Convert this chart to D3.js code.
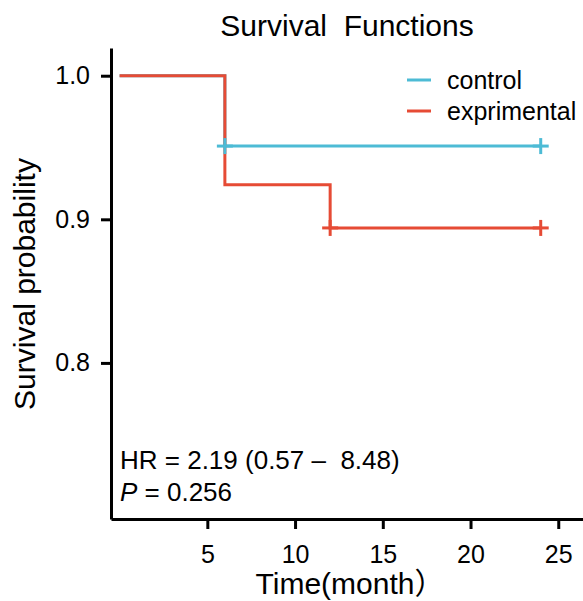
<!DOCTYPE html>
<html>
<head>
<meta charset="utf-8">
<script src="https://cdn.jsdelivr.net/npm/d3@7"></script>
<style>
  body { margin: 0; background: #fff; }
  text { font-family: "Liberation Sans", Arial, "Noto Sans CJK SC", sans-serif; fill: #000; }
</style>
</head>
<body>
<div id="theGraph"></div>
<script>
const width = 583, height = 601;

// data
const groups = ["control", "exprimental"];
const colors = ["#4DBBD5", "#E64B35"];
const controlTimes = [0, 6, 24];
const controlSurv = [1.0, 0.951, 0.951];
const controlCensor = [6, 24];
const expTimes = [0, 6, 12, 24];
const expSurv = [1.0, 0.924, 0.894, 0.894];
const expCensor = [12, 24];
const xTicks = [5, 10, 15, 20, 25];
const yTicks = [0.8, 0.9, 1.0];
const hrText = "HR = 2.19 (0.57 \u2013  8.48)";
const pValue = "= 0.256";

const svg = d3.select("#theGraph").append("svg").attr("width", width).attr("height", height);

const xScale = d3.scaleLinear().domain([-0.49, 26.41]).range([111, 583]);
const yScale = d3.scaleLinear().domain([0.6913, 1.0193]).range([519, 48]);

// axes
const xAxis = svg.append("g").attr("transform", `translate(0, ${yScale.range()[0]})`)
    .call(d3.axisBottom(xScale).tickValues(xTicks).tickSizeInner(10).tickSizeOuter(0).tickPadding(16));
const yAxis = svg.append("g").attr("transform", `translate(${xScale.range()[0]}, 0)`)
    .call(d3.axisLeft(yScale).tickValues(yTicks).tickFormat(d3.format(".1f")).tickSizeInner(10).tickSizeOuter(0).tickPadding(11));
[xAxis, yAxis].forEach(a => {
    a.select(".domain").attr("stroke", "#000").attr("stroke-width", 3);
    a.selectAll(".tick line").attr("stroke", "#000").attr("stroke-width", 3);
    a.selectAll(".tick text").style("font-size", "25px").attr("fill", "#000");
});

// survival curves
const series = [
    {times: controlTimes, surv: controlSurv, censor: controlCensor},
    {times: expTimes, surv: expSurv, censor: expCensor}
];
const line = d3.line().curve(d3.curveStepAfter).x(d => xScale(d[0])).y(d => yScale(d[1]));

series.forEach((s, i) => {
    svg.append("path")
        .datum(s.times.map((t, j) => [t, s.surv[j]]))
        .attr("d", line)
        .attr("fill", "none")
        .attr("stroke", colors[i])
        .attr("stroke-width", 3);
});

// censor marks
function survAt(s, t) {
    let v = s.surv[0];
    s.times.forEach((tt, j) => { if (tt <= t) v = s.surv[j]; });
    return v;
}
series.forEach((s, i) => {
    const g = svg.append("g").attr("stroke", colors[i]).attr("stroke-width", 3);
    s.censor.forEach(t => {
        const cx = xScale(t), cy = yScale(survAt(s, t));
        g.append("line").attr("x1", cx - 8).attr("x2", cx + 8).attr("y1", cy).attr("y2", cy);
        g.append("line").attr("x1", cx).attr("x2", cx).attr("y1", cy - 8).attr("y2", cy + 8);
    });
});

// legend
const legend = svg.append("g").attr("transform", "translate(407, 80)");
groups.forEach((name, i) => {
    legend.append("line").attr("x1", 0).attr("x2", 24).attr("y1", i * 31).attr("y2", i * 31)
        .attr("stroke", colors[i]).attr("stroke-width", 3);
    legend.append("text").attr("x", 40).attr("y", i * 31).attr("dy", "0.35em")
        .style("font-size", "25px").text(name);
});

// title and labels
svg.append("text").attr("x", 347).attr("y", 36).attr("text-anchor", "middle")
    .style("font-size", "30px").style("white-space", "pre").text("Survival  Functions");
svg.append("text").attr("x", 350).attr("y", 594).attr("text-anchor", "middle")
    .style("font-size", "30px").text("Time(month\uFF09");
svg.append("text").attr("transform", "translate(35, 284) rotate(-90)").attr("text-anchor", "middle")
    .style("font-size", "30px").text("Survival probability");

// statistics
svg.append("text").attr("x", 120).attr("y", 469).style("font-size", "26px")
    .style("white-space", "pre").text(hrText);
const pText = svg.append("text").attr("x", 120).attr("y", 501).style("font-size", "26px");
pText.append("tspan").style("font-style", "italic").text("P");
pText.append("tspan").text(" " + pValue);
</script>
</body>
</html>
